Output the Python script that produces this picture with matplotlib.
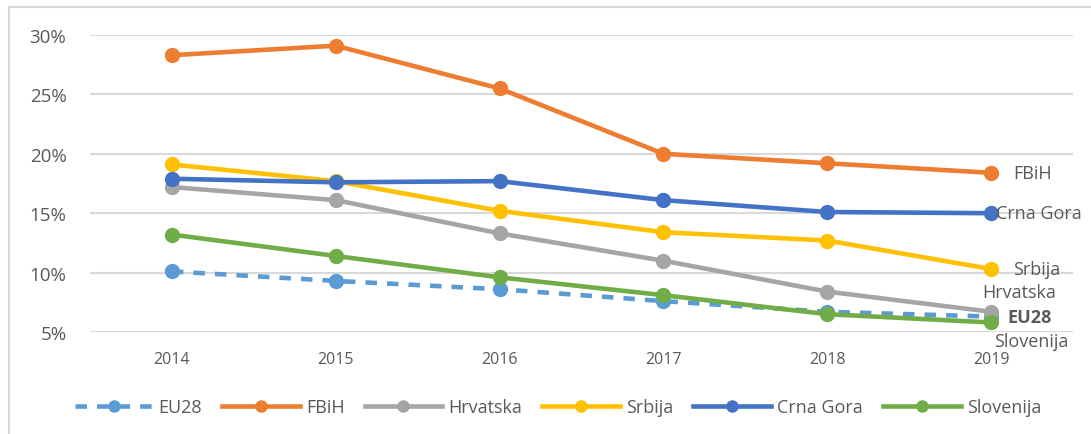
import matplotlib.pyplot as plt
from matplotlib.patches import Rectangle

plt.rcParams['font.family'] = ['Open Sans', 'DejaVu Sans']

years = ['2014', '2015', '2016', '2017', '2018', '2019']
eu28 = [10.1, 9.3, 8.6, 7.6, 6.7, 6.3]
fbih = [28.3, 29.1, 25.5, 20.0, 19.2, 18.4]
hrvatska = [17.2, 16.1, 13.3, 11.0, 8.4, 6.7]
srbija = [19.1, 17.7, 15.2, 13.4, 12.7, 10.3]
crna_gora = [17.9, 17.6, 17.7, 16.1, 15.1, 15.0]
slovenija = [13.2, 11.4, 9.6, 8.1, 6.5, 5.8]

c_text = '#595959'
x = list(range(len(years)))

fig = plt.figure(figsize=(10.91, 4.35), dpi=100)
# chart frame (only left and top edges visible in the crop)
fig.patches.append(Rectangle((9 / 1091, -0.1), 1.2, 1 - 8 / 435 + 0.1,
                             transform=fig.transFigure, fill=False,
                             edgecolor='#d9d9d9', linewidth=1.5))
ax = fig.add_axes([90 / 1091, 1 - 333 / 435, (1073 - 90) / 1091, (333 - 36) / 435])

series = [
    ('EU28', eu28, '#5b9bd5', '--'),
    ('FBiH', fbih, '#ed7d31', '-'),
    ('Hrvatska', hrvatska, '#a5a5a5', '-'),
    ('Srbija', srbija, '#ffc000', '-'),
    ('Crna Gora', crna_gora, '#4472c4', '-'),
    ('Slovenija', slovenija, '#70ad47', '-'),
]

for name, vals, col, ls in series:
    ax.plot(x, vals, color=col, linestyle=ls, linewidth=3.3, marker='o',
            markersize=10, label=name, zorder=3,
            dashes=(2.5, 2.2) if ls == '--' else (None, None))

# data labels at the last point
lab_kw = dict(color=c_text, fontsize=13, va='center', ha='left',
              textcoords='offset points')
ax.annotate('FBiH', (5, fbih[-1]), xytext=(16, 0), **lab_kw)
ax.annotate('Crna Gora', (5, crna_gora[-1]), xytext=(3.5, 0), **lab_kw)
ax.annotate('Srbija', (5, srbija[-1]), xytext=(16, 0), **lab_kw)
ax.annotate('Hrvatska', (5, hrvatska[-1]), xytext=(-6.5, 14), **lab_kw)
ax.annotate('EU28', (5, eu28[-1]), xytext=(12, 0), fontweight='bold', **lab_kw)
ax.annotate('Slovenija', (5, slovenija[-1]), xytext=(2, -13.5), **lab_kw)

ax.set_xlim(-0.5, 5.5)
ax.set_ylim(5, 30)
ax.set_yticks([5, 10, 15, 20, 25, 30])
ax.set_yticklabels([f'{v}%' for v in [5, 10, 15, 20, 25, 30]], color=c_text, fontsize=13.5)
ax.set_xticks(x)
ax.set_xticklabels(years, color=c_text, fontsize=11.5)
ax.tick_params(length=0)
ax.tick_params(axis='x', pad=14)
ax.tick_params(axis='y', pad=17)
ax.grid(axis='y', color='#d9d9d9', linewidth=1.5)
ax.set_axisbelow(True)
for s in ax.spines.values():
    s.set_visible(False)

fig.legend(loc='center', bbox_to_anchor=(558 / 1091, 1 - 408 / 435), ncol=6,
           frameon=False, fontsize=13, labelcolor=c_text, handlelength=4.3,
           columnspacing=1.1, handletextpad=0.35, markerscale=0.8)

fig.savefig('out.png', dpi=100)
